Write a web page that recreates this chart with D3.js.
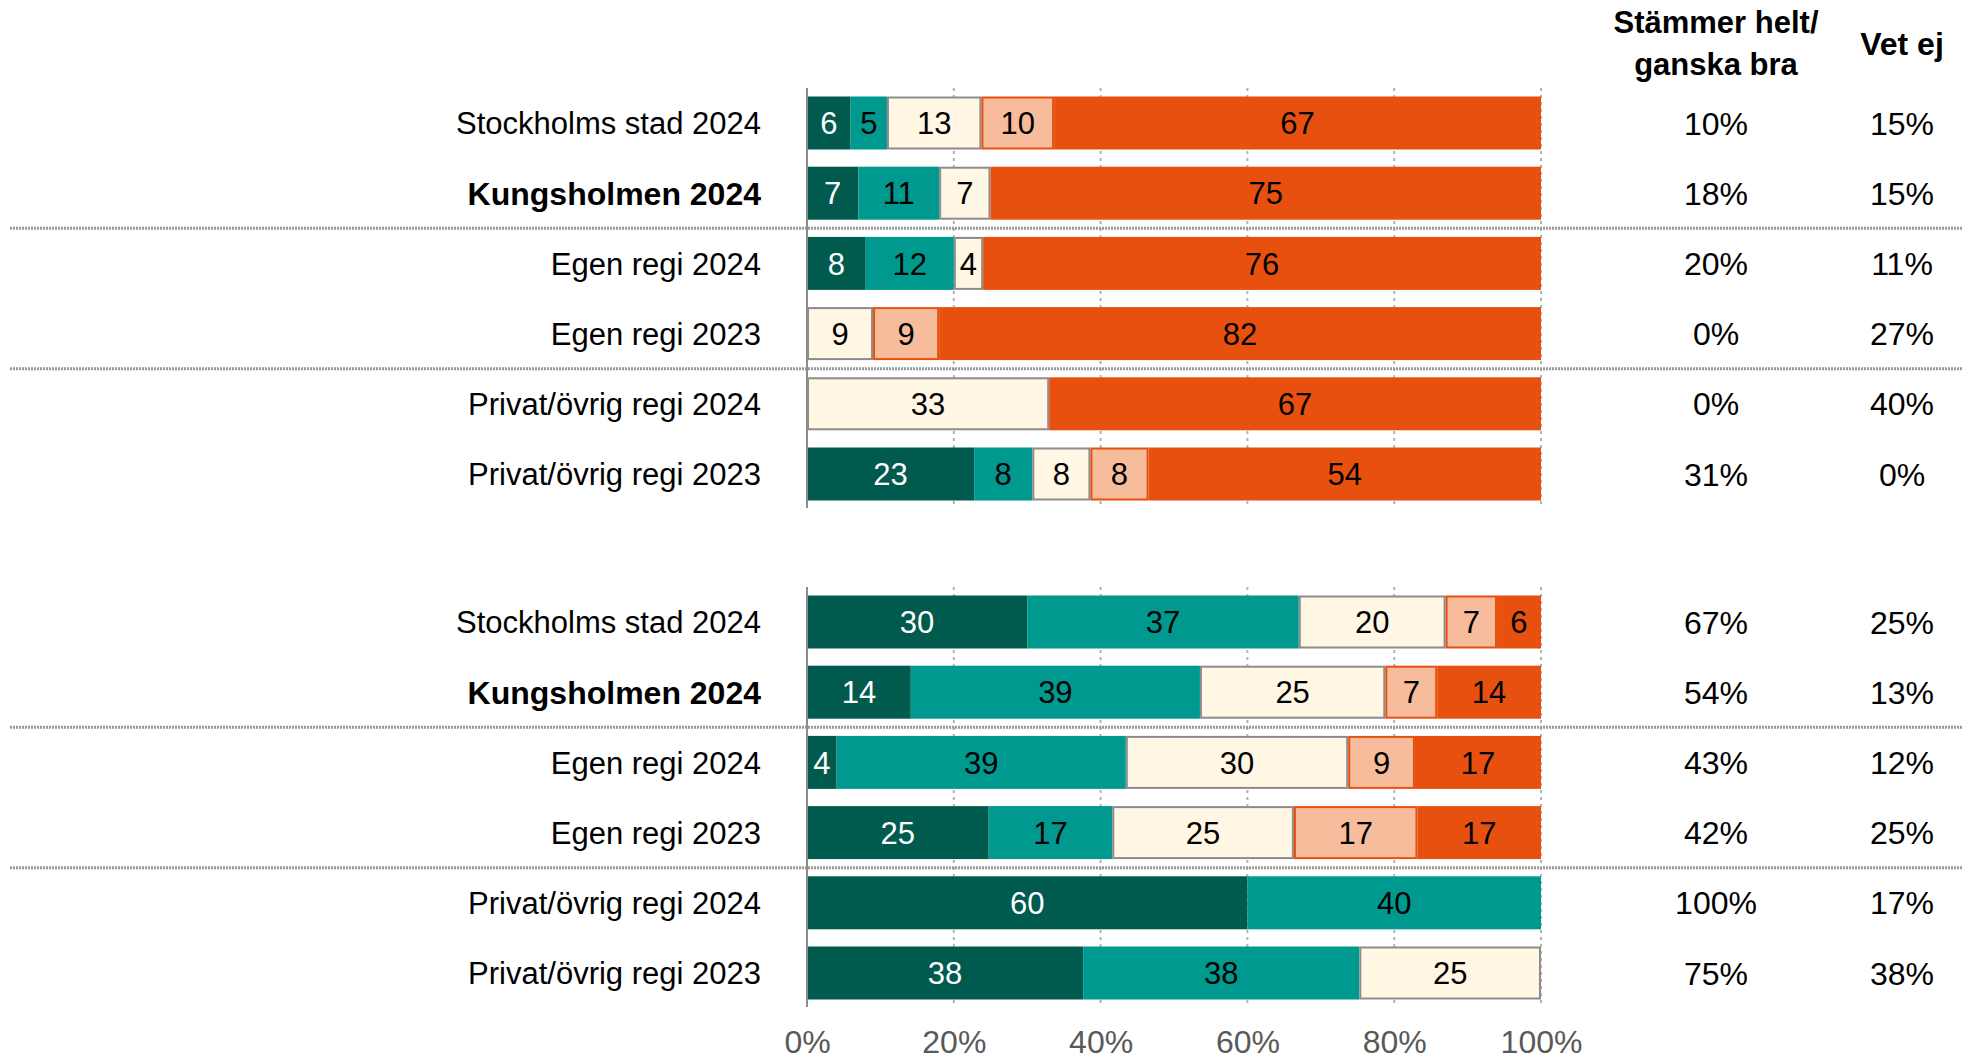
<!DOCTYPE html>
<html lang="sv">
<head>
    <meta charset="UTF-8">
    <title>Stapeldiagram</title>
    <style>
        body { margin: 0; background: #fff; }
        svg text { font-family: 'Liberation Sans', Arial, sans-serif; }
        .axis path { display: none; }
    </style>
</head>
<body>
    <div id='chart'></div>

    <script src='https://cdnjs.cloudflare.com/ajax/libs/d3/7.8.5/d3.min.js'></script>
    <script type='text/javascript'>
        // rows (same for both panels)
        const rowLabels = ['Stockholms stad 2024', 'Kungsholmen 2024', 'Egen regi 2024',
                           'Egen regi 2023', 'Privat/övrig regi 2024', 'Privat/övrig regi 2023'];
        const boldRows = ['Kungsholmen 2024'];

        // upper panel, one array per segment
        const p1Helt    = [6, 7, 8, 0, 0, 23];
        const p1Ganska  = [5, 11, 12, 0, 0, 8];
        const p1Daligt  = [13, 7, 4, 9, 33, 8];
        const p1Inte    = [10, 0, 0, 9, 0, 8];
        const p1Alls    = [67, 75, 76, 82, 67, 54];
        const p1Bra     = [10, 18, 20, 0, 0, 31];
        const p1VetEj   = [15, 15, 11, 27, 40, 0];

        // lower panel
        const p2Helt    = [30, 14, 4, 25, 60, 38];
        const p2Ganska  = [37, 39, 39, 17, 40, 38];
        const p2Daligt  = [20, 25, 30, 25, 0, 25];
        const p2Inte    = [7, 7, 9, 17, 0, 0];
        const p2Alls    = [6, 14, 17, 17, 0, 0];
        const p2Bra     = [67, 54, 43, 42, 100, 75];
        const p2VetEj   = [25, 13, 12, 25, 17, 38];

        const ticks = [0, 20, 40, 60, 80, 100];
        const headBra = ['Stämmer helt/', 'ganska bra'];
        const headVetEj = 'Vet ej';

        const segStyle = [
            { fill: '#005a4e', stroke: null, text: '#fff' },
            { fill: '#00998f', stroke: null, text: '#000' },
            { fill: '#fff6e3', stroke: '#8c8c8c', text: '#000' },
            { fill: '#f7bc9c', stroke: '#e8500f', text: '#000' },
            { fill: '#e8500f', stroke: null, text: '#000' }
        ];

        const width = 1972, height = 1059;
        const barH = 53;

        const svg = d3.select('#chart')
                      .append('svg')
                        .attr('width', width)
                        .attr('height', height);

        const x = d3.scaleLinear().domain([0, 100]).range([807, 1541]);
        const colBra = 1716, colVet = 1902;

        const panels = [
            { segs: [p1Helt, p1Ganska, p1Daligt, p1Inte, p1Alls], bra: p1Bra, vet: p1VetEj, y0: 123, y1: 474 },
            { segs: [p2Helt, p2Ganska, p2Daligt, p2Inte, p2Alls], bra: p2Bra, vet: p2VetEj, y0: 622, y1: 973 }
        ];

        panels.forEach(p => {
            const y = d3.scalePoint().domain(rowLabels).range([p.y0, p.y1]);
            const g = svg.append('g');
            const top = p.y0 - 35, bottom = p.y1 + 34;

            // dotted gridlines
            g.selectAll('line.grid')
              .data(ticks.slice(1))
              .enter()
            .append('line')
              .attr('x1', d => x(d)).attr('x2', d => x(d))
              .attr('y1', top).attr('y2', bottom)
              .attr('stroke', '#b3b3b3')
              .attr('stroke-width', 2)
              .attr('stroke-dasharray', '3,4');

            // separators between groups
            const seps = [[1, 2], [3, 4]];
            g.selectAll('line.sep')
              .data(seps)
              .enter()
            .append('line')
              .attr('x1', 10).attr('x2', 1962)
              .attr('y1', d => (y(rowLabels[d[0]]) + y(rowLabels[d[1]])) / 2)
              .attr('y2', d => (y(rowLabels[d[0]]) + y(rowLabels[d[1]])) / 2)
              .attr('stroke', '#999')
              .attr('stroke-width', 3)
              .attr('stroke-dasharray', '2,1');

            // stacked segments, normalised so every bar ends at 100%
            rowLabels.forEach((lab, i) => {
                const vals = p.segs.map(s => s[i]);
                const total = d3.sum(vals);
                let acc = 0;
                const parts = vals.map((v, k) => {
                    const start = acc / total * 100;
                    acc += v;
                    return { v: v, k: k, start: start, end: acc / total * 100 };
                }).filter(d => d.v > 0);

                const row = g.append('g').attr('transform', `translate(0, ${y(lab)})`);

                row.selectAll('rect')
                    .data(parts)
                    .enter()
                  .append('rect')
                    .attr('x', d => x(d.start) + (segStyle[d.k].stroke ? 1 : 0))
                    .attr('y', d => -barH / 2 + (segStyle[d.k].stroke ? 1 : 0))
                    .attr('width', d => x(d.end) - x(d.start) - (segStyle[d.k].stroke ? 2 : 0))
                    .attr('height', d => barH - (segStyle[d.k].stroke ? 2 : 0))
                    .attr('fill', d => segStyle[d.k].fill)
                    .attr('stroke', d => segStyle[d.k].stroke || 'none')
                    .attr('stroke-width', 2);

                row.selectAll('text')
                    .data(parts)
                    .enter()
                  .append('text')
                    .attr('x', d => (x(d.start) + x(d.end)) / 2)
                    .attr('dy', '0.36em')
                    .attr('text-anchor', 'middle')
                    .style('font-size', '31px')
                    .attr('fill', d => segStyle[d.k].text)
                    .text(d => d.v);

                // row label
                const bold = boldRows.includes(lab);
                g.append('text')
                    .attr('x', 761)
                    .attr('y', y(lab))
                    .attr('dy', '0.36em')
                    .attr('text-anchor', 'end')
                    .style('font-size', bold ? '32px' : '31px')
                    .style('font-weight', bold ? 'bold' : 'normal')
                    .text(lab);

                // right columns
                g.append('text')
                    .attr('x', colBra).attr('y', y(lab)).attr('dy', '0.36em')
                    .attr('text-anchor', 'middle')
                    .style('font-size', '32px')
                    .text(p.bra[i] + '%');
                g.append('text')
                    .attr('x', colVet).attr('y', y(lab)).attr('dy', '0.36em')
                    .attr('text-anchor', 'middle')
                    .style('font-size', '32px')
                    .text(p.vet[i] + '%');
            });

            // 0% axis line
            g.append('line')
              .attr('x1', x(0)).attr('x2', x(0))
              .attr('y1', top).attr('y2', bottom)
              .attr('stroke', '#8c8c8c')
              .attr('stroke-width', 2);
        });

        // x axis labels
        svg.append('g')
            .attr('class', 'axis')
            .attr('transform', 'translate(0, 1041)')
            .call(d3.axisBottom(x).tickValues(ticks).tickSize(0).tickFormat(d => d + '%'))
          .selectAll('text')
            .style('font-size', '32px')
            .style('font-family', "'Liberation Sans', Arial, sans-serif")
            .attr('fill', '#595959')
            .attr('y', 0)
            .attr('dy', '0.36em');

        // column headers
        svg.append('g').selectAll('text')
            .data(headBra)
            .enter()
          .append('text')
            .attr('x', colBra)
            .attr('y', (d, i) => 33 + i * 42)
            .attr('text-anchor', 'middle')
            .style('font-size', '31px')
            .style('font-weight', 'bold')
            .text(d => d);

        svg.append('text')
            .attr('x', colVet)
            .attr('y', 55)
            .attr('text-anchor', 'middle')
            .style('font-size', '32px')
            .style('font-weight', 'bold')
            .text(headVetEj);
    </script>
</body>
</html>
